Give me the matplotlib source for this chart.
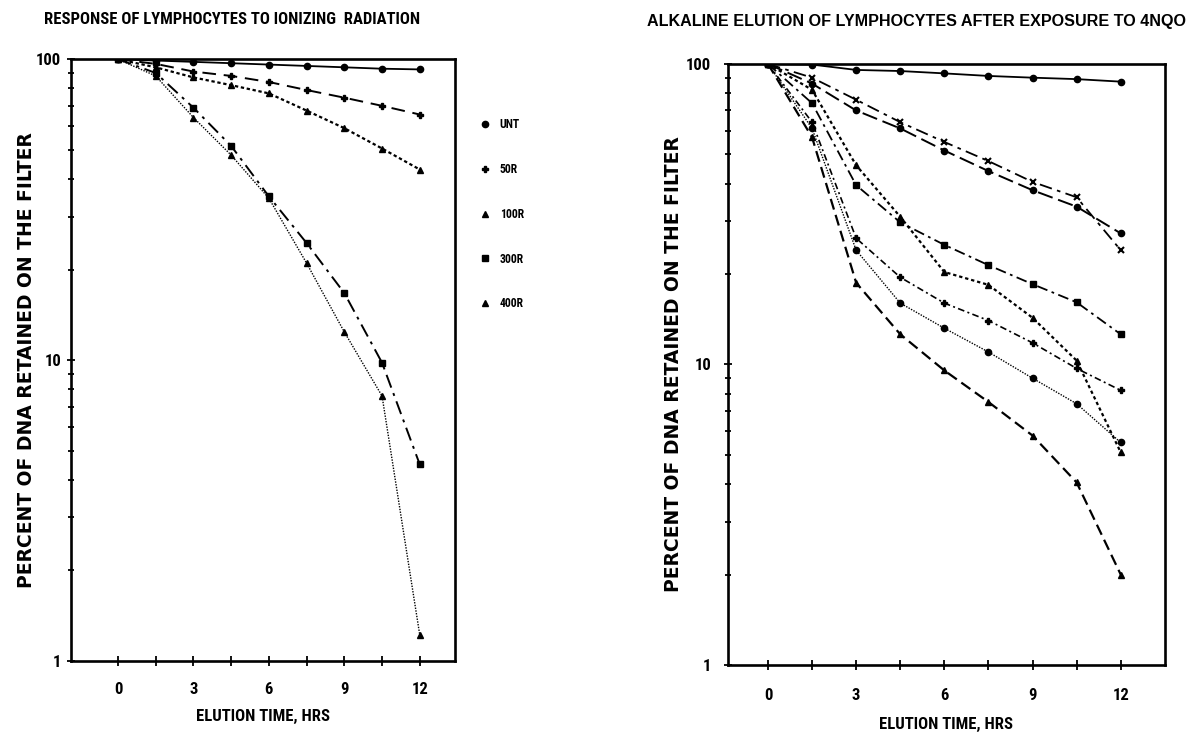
import matplotlib
matplotlib.use("Agg")
import matplotlib.pyplot as plt
from matplotlib import font_manager
from matplotlib.lines import Line2D
from matplotlib.ticker import FixedLocator, LogLocator, NullFormatter

# elution times (hrs)
hours = [0, 1.5, 3, 4.5, 6, 7.5, 9, 10.5, 12]

# left panel: ionizing radiation
unt_left = [100, 99, 98, 97, 96, 95, 94, 93, 92.5]
r50 = [100, 96.5, 91, 88, 84, 79, 74.5, 70, 65.5]
r100 = [100, 94, 87, 82, 77, 67.5, 59, 50.5, 43]
r300 = [100, 90, 69, 51.5, 35, 24.5, 16.7, 9.8, 4.5]
r400 = [100, 88, 64, 48, 34.5, 21, 12.4, 7.6, 1.22]
left_labels = ["UNT", "50R", "100R", "300R", "400R"]

# right panel: 4NQO exposure
unt_right = [100, 99.5, 95.5, 94.7, 93, 91.2, 90, 89, 87.3]
nqo_a = [100, 90, 76, 64, 55, 47.5, 40.5, 36, 24]
nqo_b = [100, 86, 70, 61, 51.5, 44, 38, 33.5, 27.3]
nqo_c = [100, 74, 39.5, 29.7, 25, 21.4, 18.5, 16.1, 12.6]
nqo_d = [100, 82, 46, 31, 20.3, 18.4, 14.3, 10.3, 5.1]
nqo_e = [100, 64, 26.3, 19.5, 16, 14, 11.8, 9.7, 8.2]
nqo_f = [100, 61, 24, 16, 13.2, 11, 9, 7.4, 5.5]
nqo_g = [100, 57, 18.7, 12.6, 9.55, 7.5, 5.8, 4.05, 2.0]

x_ticks = [0, 3, 6, 9, 12]
y_ticks = [1, 10, 100]


def pick_font(names):
    have = {f.name for f in font_manager.fontManager.ttflist}
    for n in names:
        if n in have:
            return n
    return "DejaVu Sans"


narrow = pick_font(["Liberation Sans Narrow", "DejaVu Sans Condensed",
                    "Roboto Condensed", "Liberation Sans"])
wide = "DejaVu Sans"

fig = plt.figure(figsize=(11.87, 7.33), dpi=100)
ax1 = fig.add_axes([0.0598, 0.0982, 0.3235, 0.821])
ax2 = fig.add_axes([0.6133, 0.0928, 0.368, 0.820])


def style_axes(ax, xlim, label_x, xpad, ypad, xlabelpad):
    ax.set_yscale("log")
    ax.set_ylim(1, 100)
    ax.set_xlim(*xlim)
    for s in ax.spines.values():
        s.set_linewidth(1.9)
    ax.xaxis.set_major_locator(FixedLocator(x_ticks))
    ax.xaxis.set_minor_locator(FixedLocator([1.5, 4.5, 7.5, 10.5]))
    ax.yaxis.set_major_locator(FixedLocator(y_ticks))
    ax.yaxis.set_minor_locator(LogLocator(base=10, subs=range(2, 10)))
    ax.yaxis.set_minor_formatter(NullFormatter())
    ax.set_xticklabels([str(v) for v in x_ticks])
    ax.set_yticklabels([str(v) for v in y_ticks])
    ax.tick_params(axis="both", which="both", direction="inout", width=1.3)
    ax.tick_params(axis="x", which="both", length=7, pad=xpad)
    ax.tick_params(axis="y", which="major", length=6, pad=ypad)
    ax.tick_params(axis="y", which="minor", length=4)
    for lab in ax.get_xticklabels() + ax.get_yticklabels():
        lab.set_fontfamily(narrow)
        lab.set_fontweight("bold")
        lab.set_fontsize(12)
    ax.set_xlabel("ELUTION TIME, HRS", fontfamily=narrow, fontweight="bold",
                  fontsize=12, labelpad=xlabelpad)
    ax.set_ylabel("PERCENT OF DNA RETAINED ON THE FILTER", fontfamily=wide,
                  fontweight="bold", fontsize=13.5)
    ax.yaxis.set_label_coords(label_x, 0.5)


# ---- left panel ----
ax1.plot(hours, unt_left, color="black", lw=1.3, ls="-", marker="o", ms=4.5)
ax1.plot(hours, r50, color="black", lw=1.4, ls=(0, (7, 4)), marker="P", ms=5)
ax1.plot(hours, r100, color="black", lw=1.6, ls=(0, (1.5, 1.2)), marker="^", ms=5)
ax1.plot(hours, r300, color="black", lw=1.4, ls=(0, (7, 3, 1.5, 3)), marker="s", ms=4.5)
ax1.plot(hours, r400, color="black", lw=1.0, ls=(0, (1, 1)), marker="^", ms=4.5)
style_axes(ax1, (-1.87, 13.4), -0.091, 11.5, 4, 9)

handles = [Line2D([], [], color="black", ls="none", marker=m, ms=4.5)
           for m in ["o", "P", "^", "s", "^"]]
leg = ax1.legend(handles, left_labels, loc="upper left",
                 bbox_to_anchor=(1.04, 0.92), frameon=False,
                 handlelength=0.6, handletextpad=1.0, labelspacing=2.7,
                 prop={"family": narrow, "weight": "bold", "size": 8.5})

# ---- right panel ----
ax2.plot(hours, unt_right, color="black", lw=1.3, ls="-", marker="o", ms=4.5)
ax2.plot(hours, nqo_a, color="black", lw=1.3, ls=(0, (7, 3, 2, 3)), marker="x", ms=5, mew=1.5)
ax2.plot(hours, nqo_b, color="black", lw=1.4, ls=(0, (8, 3)), marker="o", ms=4.5)
ax2.plot(hours, nqo_c, color="black", lw=1.3, ls=(0, (6, 2.5, 1.5, 2.5)), marker="s", ms=4.5)
ax2.plot(hours, nqo_d, color="black", lw=1.6, ls=(0, (1.5, 1.3)), marker="^", ms=5)
ax2.plot(hours, nqo_e, color="black", lw=1.2, ls=(0, (4, 2, 1.2, 2)), marker="P", ms=4.5)
ax2.plot(hours, nqo_f, color="black", lw=1.0, ls=(0, (1, 1)), marker="o", ms=4.5)
ax2.plot(hours, nqo_g, color="black", lw=1.6, ls=(0, (5, 2.5)), marker="^", ms=4.5)
style_axes(ax2, (-1.36, 13.5), -0.103, 13, 9, 10.5)

# titles sit off-centre in the original, so place them on the figure
fig.text(0.1955, 0.973, "RESPONSE OF LYMPHOCYTES TO IONIZING  RADIATION",
         ha="center", va="center", fontfamily=narrow, fontweight="bold",
         fontsize=12)
fig.text(0.772, 0.970, "ALKALINE ELUTION OF LYMPHOCYTES AFTER EXPOSURE TO 4NQO",
         ha="center", va="center", fontfamily="Liberation Sans",
         fontweight="bold", fontsize=11.6)

fig.savefig("out.png", dpi=100, facecolor="white")
